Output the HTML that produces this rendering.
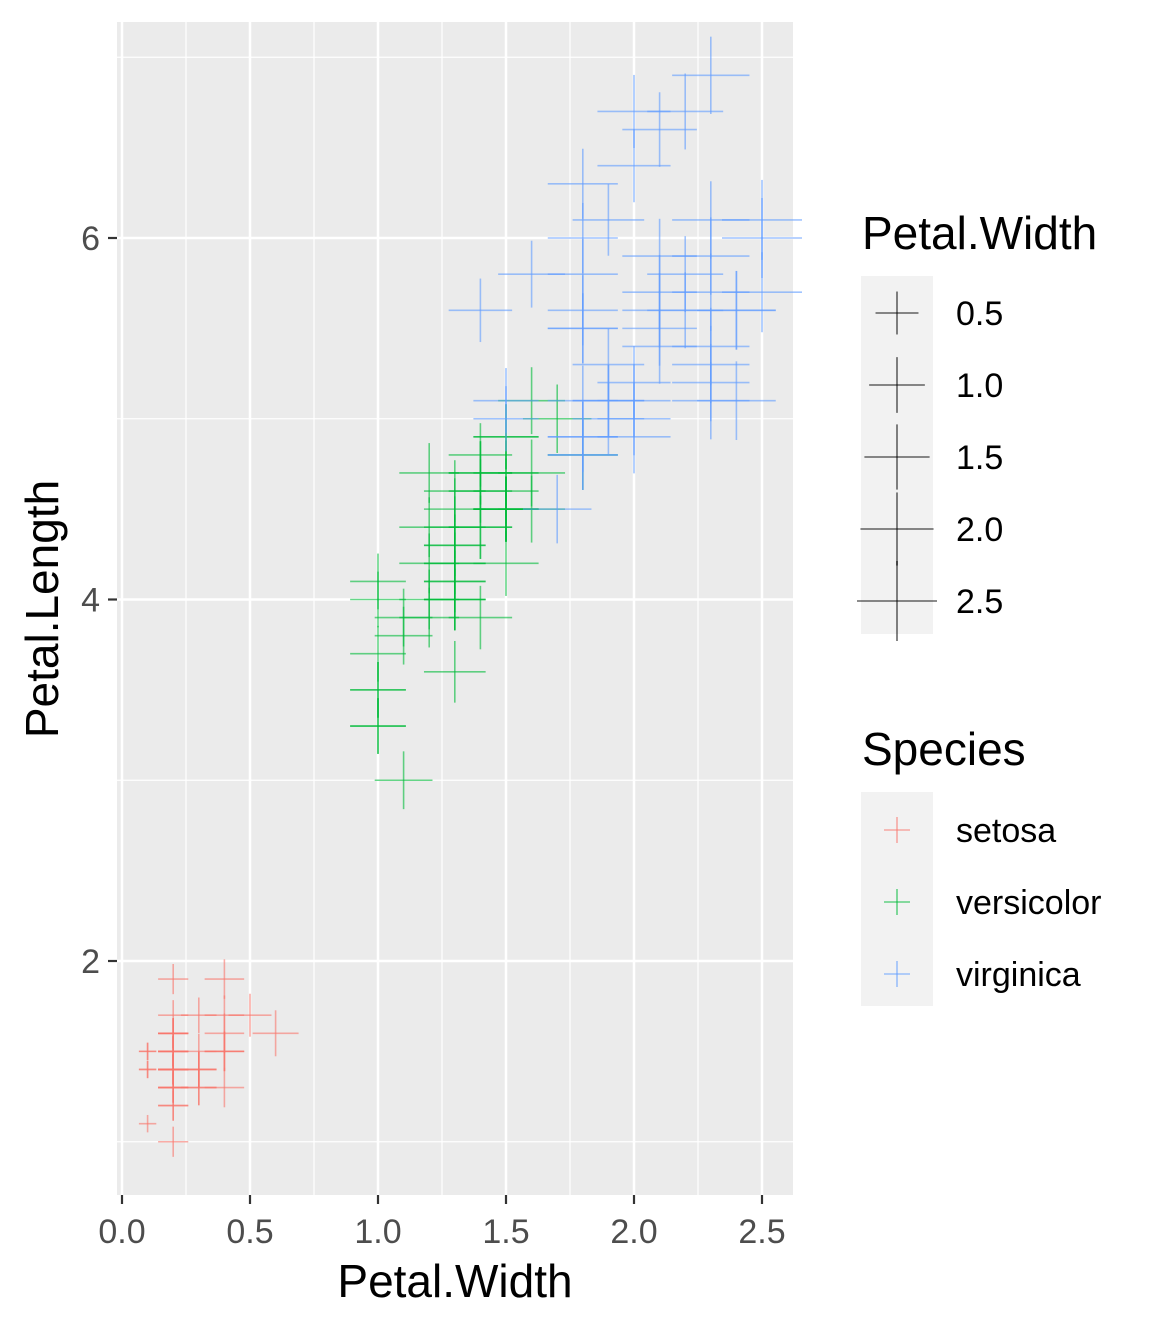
<!DOCTYPE html>
<html><head><meta charset="utf-8"><style>
body{margin:0;background:#fff;}
svg text{font-family:"Liberation Sans",Arial,sans-serif;}
</style></head><body>
<svg id="chart" width="1156" height="1328" xmlns="http://www.w3.org/2000/svg">
<rect x="117" y="22" width="676" height="1173" fill="#EBEBEB"/>
<g id="grid"></g>
<g id="points"></g>
<g id="axes"></g>
<text x="455" y="1297" font-size="46" text-anchor="middle" fill="#000">Petal.Width</text>
<text transform="translate(58,609) rotate(-90)" font-size="46" text-anchor="middle" fill="#000">Petal.Length</text>
<g id="legend"></g>
</svg>
<script>
const setosaLength=[1.4,1.4,1.3,1.5,1.4,1.7,1.4,1.5,1.4,1.5,1.5,1.6,1.4,1.1,1.2,1.5,1.3,1.4,1.7,1.5,1.7,1.5,1.0,1.7,1.9,1.6,1.6,1.5,1.4,1.6,1.6,1.5,1.5,1.4,1.5,1.2,1.3,1.4,1.3,1.5,1.3,1.3,1.3,1.6,1.9,1.4,1.6,1.4,1.5,1.4];
const setosaWidth=[0.2,0.2,0.2,0.2,0.2,0.4,0.3,0.2,0.2,0.1,0.2,0.2,0.1,0.1,0.2,0.4,0.4,0.3,0.3,0.3,0.2,0.4,0.2,0.5,0.2,0.2,0.4,0.2,0.2,0.2,0.2,0.4,0.1,0.2,0.2,0.2,0.2,0.1,0.2,0.2,0.3,0.3,0.2,0.6,0.4,0.3,0.2,0.2,0.2,0.2];
const versicolorLength=[4.7,4.5,4.9,4.0,4.6,4.5,4.7,3.3,4.6,3.9,3.5,4.2,4.0,4.7,3.6,4.4,4.5,4.1,4.5,3.9,4.8,4.0,4.9,4.7,4.3,4.4,4.8,5.0,4.5,3.5,3.8,3.7,3.9,5.1,4.5,4.5,4.7,4.4,4.1,4.0,4.4,4.6,4.0,3.3,4.2,4.2,4.2,4.3,3.0,4.1];
const versicolorWidth=[1.4,1.5,1.5,1.3,1.5,1.3,1.6,1.0,1.3,1.4,1.0,1.5,1.0,1.4,1.3,1.4,1.5,1.0,1.5,1.1,1.8,1.3,1.5,1.2,1.3,1.4,1.4,1.7,1.5,1.0,1.1,1.0,1.2,1.6,1.5,1.6,1.5,1.3,1.3,1.3,1.2,1.4,1.2,1.0,1.3,1.2,1.3,1.3,1.1,1.3];
const virginicaLength=[6.0,5.1,5.9,5.6,5.8,6.6,4.5,6.3,5.8,6.1,5.1,5.3,5.5,5.0,5.1,5.3,5.5,6.7,6.9,5.0,5.7,4.9,6.7,4.9,5.7,6.0,4.8,4.9,5.6,5.8,6.1,6.4,5.6,5.1,5.6,6.1,5.6,5.5,4.8,5.4,5.6,5.1,5.1,5.9,5.7,5.2,5.0,5.2,5.4,5.1];
const virginicaWidth=[2.5,1.9,2.1,1.8,2.2,2.1,1.7,1.8,1.8,2.5,2.0,1.9,2.1,2.0,2.4,2.3,1.8,2.2,2.3,1.5,2.3,2.0,2.0,1.8,2.1,1.8,1.8,1.8,2.1,1.6,1.9,2.0,2.2,1.5,1.4,2.3,2.4,1.8,1.8,2.1,2.4,2.3,1.9,2.3,2.5,2.3,1.9,2.0,2.3,1.8];
const xTicks=["0.0","0.5","1.0","1.5","2.0","2.5"];
const yTicks=["2","4","6"];
const sizeLegend=["0.5","1.0","1.5","2.0","2.5"];
const speciesNames=["setosa","versicolor","virginica"];
const speciesColors=["#F8766D","#00BA38","#619CFF"];

const NS="http://www.w3.org/2000/svg";
const X=v=>122+v*256;
const Y=v=>961-(v-2)*180.75;
const wMin=0.1,wMax=2.5;
const sizeOf=w=>1+5*Math.sqrt(Math.max(0,(w-wMin)/(wMax-wMin)));
const half=w=>2.44+6.26*sizeOf(w);
function mk(tag,attrs,parent){const e=document.createElementNS(NS,tag);for(const k in attrs)e.setAttribute(k,attrs[k]);parent.appendChild(e);return e;}

const grid=document.getElementById('grid');
[0.25,0.75,1.25,1.75,2.25].forEach(v=>{const l=mk('line',{x1:X(v),x2:X(v),y1:22,y2:1195,stroke:'#fff','stroke-width':1.2},grid);

});
[1,3,5,7].forEach(v=>{const l=mk('line',{x1:117,x2:793,y1:Y(v),y2:Y(v),stroke:'#fff','stroke-width':1.2},grid);

});
xTicks.forEach(t=>{const l=mk('line',{x1:X(+t),x2:X(+t),y1:22,y2:1195,stroke:'#fff','stroke-width':2.5},grid);

});
yTicks.forEach(t=>{const l=mk('line',{x1:117,x2:793,y1:Y(+t),y2:Y(+t),stroke:'#fff','stroke-width':2.5},grid);

});

const pts=document.getElementById('points');
function cross(cx,cy,h,color,parent,name){
  const g=mk('g',{stroke:color,'stroke-width':1.6,'stroke-opacity':0.6},parent);
  
  
  mk('line',{x1:cx-h,x2:cx+h,y1:cy,y2:cy},g);
  mk('line',{x1:cx,x2:cx,y1:cy-h,y2:cy+h},g);
  return g;
}
const series=[[setosaWidth,setosaLength],[versicolorWidth,versicolorLength],[virginicaWidth,virginicaLength]];
series.forEach((s,i)=>{s[0].forEach((w,j)=>{cross(X(w),Y(s[1][j]),half(w),speciesColors[i],pts,speciesNames[i]+'-point');});});

const ax=document.getElementById('axes');
xTicks.forEach(t=>{const l=mk('line',{x1:X(+t),x2:X(+t),y1:1195,y2:1204,stroke:'#333','stroke-width':2.2},ax);


const tx=mk('text',{x:X(+t),y:1243,'font-size':34,'text-anchor':'middle',fill:'#4D4D4D'},ax);tx.textContent=t;

});
yTicks.forEach(t=>{const l=mk('line',{x1:108,x2:117,y1:Y(+t),y2:Y(+t),stroke:'#333','stroke-width':2.2},ax);


const tx=mk('text',{x:100,y:Y(+t)+12,'font-size':34,'text-anchor':'end',fill:'#4D4D4D'},ax);tx.textContent=t;

});

const lg=document.getElementById('legend');
let t1=mk('text',{x:862,y:249,'font-size':46,fill:'#000'},lg);t1.textContent='Petal.Width';


let b1=mk('rect',{x:861,y:276,width:72,height:358,fill:'#F2F2F2'},lg);


sizeLegend.forEach((v,i)=>{const cy=313+i*72;
const g=mk('g',{stroke:'#000','stroke-width':1.6,'stroke-opacity':0.6},lg);


const h=half(+v);mk('line',{x1:897-h,x2:897+h,y1:cy,y2:cy},g);mk('line',{x1:897,x2:897,y1:cy-h,y2:cy+h},g);
const tx=mk('text',{x:956,y:cy+12,'font-size':34,fill:'#000'},lg);tx.textContent=v;

});
let t2=mk('text',{x:862,y:765,'font-size':46,fill:'#000'},lg);t2.textContent='Species';


let b2=mk('rect',{x:861,y:792,width:72,height:214,fill:'#F2F2F2'},lg);


speciesNames.forEach((n,i)=>{const cy=830+i*72;
cross(897,cy,13,speciesColors[i],lg,'species-legend-key');
const tx=mk('text',{x:956,y:cy+12,'font-size':34,fill:'#000'},lg);tx.textContent=n;

});
</script>
</body></html>
